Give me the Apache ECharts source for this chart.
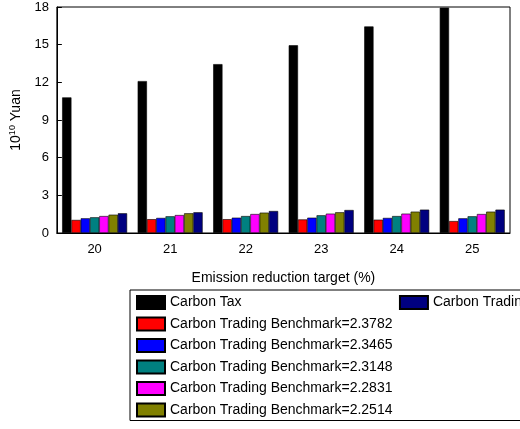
<!DOCTYPE html>
<html>
<head>
<meta charset="utf-8">
<script src="https://cdn.jsdelivr.net/npm/echarts@6/dist/echarts.min.js"></script>
<style>html,body{margin:0;padding:0;background:#fff}#main{width:520px;height:429px}</style>
</head>
<body>
<div id="main"></div>
<script>
// 减排目标 (%)
var categories = ['20', '21', '22', '23', '24', '25'];
var seriesNames = [
    'Carbon Tax',
    'Carbon Trading Benchmark=2.3782',
    'Carbon Trading Benchmark=2.3465',
    'Carbon Trading Benchmark=2.3148',
    'Carbon Trading Benchmark=2.2831',
    'Carbon Trading Benchmark=2.2514',
    'Carbon Trading Benchmark=2.2197'
];
var colors = ['#000000', '#ff0000', '#0000ff', '#008080', '#ff00ff', '#808000', '#000080'];
var carbonTax = [10.8, 12.1, 13.45, 14.95, 16.45, 17.95];
var bench1 = [1.04, 1.10, 1.10, 1.08, 1.06, 0.95];
var bench2 = [1.17, 1.20, 1.22, 1.22, 1.20, 1.17];
var bench3 = [1.25, 1.33, 1.35, 1.41, 1.35, 1.33];
var bench4 = [1.35, 1.43, 1.51, 1.54, 1.54, 1.51];
var bench5 = [1.46, 1.57, 1.62, 1.65, 1.70, 1.70];
var bench6 = [1.57, 1.65, 1.75, 1.83, 1.86, 1.86];
var allData = [carbonTax, bench1, bench2, bench3, bench4, bench5, bench6];

var myChart = echarts.init(document.getElementById('main'));
var series = [];
for (var i = 0; i < allData.length; i++) {
    series.push({
        name: seriesNames[i],
        type: 'bar',
        data: allData[i],
        barGap: '0%',
        barCategoryGap: '14%',
        itemStyle: { color: colors[i], borderColor: '#000', borderWidth: 0.6 }
    });
}
var option = {
    animation: false,
    grid: { left: 48, right: 10, top: 7, bottom: 196, show: true, borderColor: '#000', borderWidth: 1 },
    legend: {
        orient: 'vertical',
        left: 130,
        top: 290,
        itemWidth: 28,
        itemHeight: 13,
        itemGap: 6.5,
        icon: 'rect',
        padding: [5, 20, 3, 6],
        borderColor: '#000',
        borderWidth: 1,
        textStyle: { fontFamily: 'Arial, Liberation Sans', fontSize: 14, color: '#000' },
        data: seriesNames
    },
    xAxis: {
        type: 'category',
        data: categories,
        name: 'Emission reduction target (%)',
        nameLocation: 'middle',
        nameGap: 38,
        nameTextStyle: { fontFamily: 'Arial, Liberation Sans', fontSize: 14, color: '#000' },
        axisLine: { lineStyle: { color: '#000' } },
        axisTick: { inside: false, length: 5, lineStyle: { color: '#000' } },
        axisLabel: { fontFamily: 'Arial, Liberation Sans', fontSize: 13, color: '#000', margin: 10 }
    },
    yAxis: {
        type: 'value',
        min: 0,
        max: 18,
        interval: 3,
        name: '{b|10}{s|10}{b| Yuan}',
        nameLocation: 'middle',
        nameGap: 30,
        nameTextStyle: {
            rich: {
                b: { fontFamily: 'Arial, Liberation Sans', fontSize: 14, color: '#000' },
                s: { fontFamily: 'Arial, Liberation Sans', fontSize: 9, color: '#000', verticalAlign: 'top', padding: [0, 0, 8, 0] }
            }
        },
        axisLine: { show: true, lineStyle: { color: '#000' } },
        axisTick: { show: true, inside: true, length: 5, lineStyle: { color: '#000' } },
        splitLine: { show: false },
        axisLabel: { fontFamily: 'Arial, Liberation Sans', fontSize: 13, color: '#000' }
    },
    series: series
};
myChart.setOption(option);
</script>
</body>
</html>
